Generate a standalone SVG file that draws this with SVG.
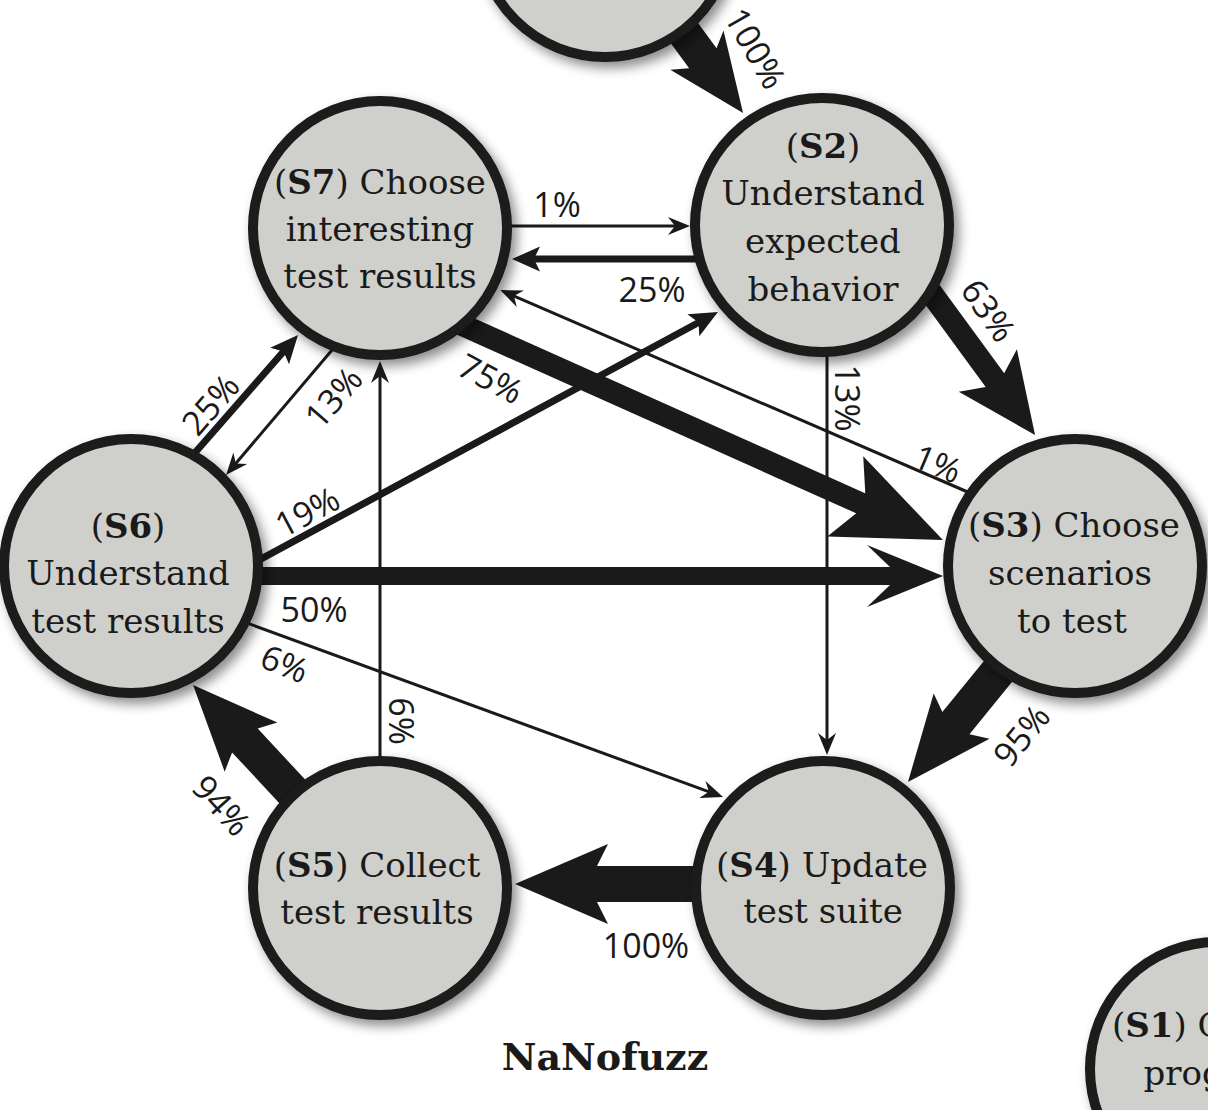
<svg xmlns="http://www.w3.org/2000/svg" width="1208" height="1110" viewBox="0 0 1208 1110">
<style>
.node circle{fill:#cfd0cb;stroke:#1a1a1a;stroke-width:10;filter:url(#sh)}
.nt{font-family:"DejaVu Serif","Liberation Serif",serif;font-size:34px;fill:#1a1a1a;text-anchor:middle}
.nt tspan.b{font-weight:bold}
.e{fill:none;stroke:#1a1a1a;stroke-linecap:butt}
.thin{stroke-width:3;marker-end:url(#mThin)}
.med{stroke-width:7;marker-end:url(#mMed)}
.lbl{font-family:"Open Sans","Noto Sans","Liberation Sans",sans-serif;font-size:34px;fill:#1a1a1a;text-anchor:middle;dominant-baseline:central}
.ttl{font-family:"DejaVu Serif","Liberation Serif",serif;font-size:38px;font-weight:bold;fill:#1a1a1a;text-anchor:middle}
marker path{fill:#1a1a1a}
</style>
<defs>
<filter id="sh" x="-20%" y="-20%" width="150%" height="150%">
<feDropShadow dx="5" dy="6" stdDeviation="6" flood-color="#000" flood-opacity="0.45"/>
</filter>
<marker id="mThin" markerUnits="userSpaceOnUse" orient="auto" refX="8" refY="0" markerWidth="22" markerHeight="18" overflow="visible"><path d="M22,0 L0,-9 L7,0 L0,9 Z"/></marker>
<marker id="mMed" markerUnits="userSpaceOnUse" orient="auto" refX="7" refY="0" markerWidth="28" markerHeight="25" overflow="visible"><path d="M28,0 L0,-12.5 L6,0 L0,12.5 Z"/></marker>
<marker id="mTop" markerUnits="userSpaceOnUse" orient="auto" refX="11" refY="0" markerWidth="78" markerHeight="66" overflow="visible"><path d="M78,0 L0,-33 L10,-17 L10,17 L0,33 Z"/></marker>
<marker id="m63" markerUnits="userSpaceOnUse" orient="auto" refX="13" refY="0" markerWidth="80" markerHeight="72" overflow="visible"><path d="M80,0 L0,-36 L12,-11.5 L12,11.5 L0,36 Z"/></marker>
<marker id="m75" markerUnits="userSpaceOnUse" orient="auto" refX="18" refY="0" markerWidth="107" markerHeight="88" overflow="visible"><path d="M107,0 L0,-44 L17,-11 L17,11 L0,44 Z"/></marker>
<marker id="m50" markerUnits="userSpaceOnUse" orient="auto" refX="24" refY="0" markerWidth="76" markerHeight="62" overflow="visible"><path d="M76,0 L0,-31 L23,-9 L23,9 L0,31 Z"/></marker>
<marker id="mBig" markerUnits="userSpaceOnUse" orient="auto" refX="12" refY="0" markerWidth="93" markerHeight="80" overflow="visible"><path d="M93,0 L0,-40 L11,-18 L11,18 L0,40 Z"/></marker>
<marker id="m95" markerUnits="userSpaceOnUse" orient="auto" refX="10" refY="0" markerWidth="85" markerHeight="72" overflow="visible"><path d="M85,0 L0,-36 L9,-17.5 L9,17.5 L0,36 Z"/></marker>
</defs>
<rect width="1208" height="1110" fill="#ffffff"/>
<g id="connectors">
<path class="e" d="M654.3,-7.9 L703.4,59" stroke-width="34" marker-end="url(#mTop)"/>
<path class="e thin" d="M508,226 L676,226"/>
<path class="e med" d="M702,259 L533,259"/>
<path class="e" d="M917,273.6 L995.5,380.9" stroke-width="23" marker-end="url(#m63)"/>
<path class="e thin" d="M827,350 L827,741"/>
<path class="e thin" d="M970,493 L513,295.6"/>
<path class="e" d="M432,311.5 L861.7,503.7" stroke-width="22" marker-end="url(#m75)"/>
<path class="e med" d="M179.4,470.5 L284.2,350.8"/>
<path class="e thin" d="M338,343 L235.1,464.3"/>
<path class="e med" d="M250,565 L699.5,322" stroke-width="5.5"/>
<path class="e" d="M250,576 L891,576" stroke-width="18" marker-end="url(#m50)"/>
<path class="e thin" d="M235,618.6 L709.9,792.2"/>
<path class="e thin" d="M380,770 L380,375"/>
<path class="e" d="M329.4,831.2 L244.2,739.8" stroke-width="35" marker-end="url(#m95)"/>
<path class="e" d="M710,884 L596,884" stroke-width="36" marker-end="url(#mBig)"/>
<path class="e" d="M1046.8,611.5 L955.3,723.9" stroke-width="35" marker-end="url(#m95)"/>
<text class="lbl" transform="translate(756,48) rotate(60)">100%</text>
<text class="lbl" x="557" y="204">1%</text>
<text class="lbl" x="652" y="289">25%</text>
<text class="lbl" transform="translate(989,310) rotate(55)">63%</text>
<text class="lbl" transform="translate(848,398) rotate(90)">13%</text>
<text class="lbl" transform="translate(938,463) rotate(23)">1%</text>
<text class="lbl" transform="translate(491,378) rotate(28)">75%</text>
<text class="lbl" transform="translate(210,404) rotate(-49)">25%</text>
<text class="lbl" transform="translate(333,397) rotate(-49)">13%</text>
<text class="lbl" transform="translate(307,511) rotate(-28)">19%</text>
<text class="lbl" x="314" y="609">50%</text>
<text class="lbl" transform="translate(285,663) rotate(22)">6%</text>
<text class="lbl" transform="translate(402,721) rotate(90)">6%</text>
<text class="lbl" transform="translate(222,805) rotate(48)">94%</text>
<text class="lbl" x="646" y="945">100%</text>
<text class="lbl" transform="translate(1021,735) rotate(-51)">95%</text>
</g>
<g id="n-top" class="node"><circle cx="605" cy="-70" r="127"/></g>
<g id="s2" class="node"><circle cx="822" cy="225" r="127"/>
<text class="nt" x="823"><tspan x="823" y="158">(<tspan class="b">S2</tspan>)</tspan><tspan x="823" y="205">Understand</tspan><tspan x="823" y="253">expected</tspan><tspan x="823" y="301">behavior</tspan></text></g>
<g id="s7" class="node"><circle cx="380" cy="228" r="127"/>
<text class="nt" x="380"><tspan x="380" y="194">(<tspan class="b">S7</tspan>) Choose</tspan><tspan x="380" y="241">interesting</tspan><tspan x="380" y="288">test results</tspan></text></g>
<g id="s6" class="node"><circle cx="131" cy="566" r="127"/>
<text class="nt" x="128"><tspan x="128" y="538">(<tspan class="b">S6</tspan>)</tspan><tspan x="128" y="585">Understand</tspan><tspan x="128" y="633">test results</tspan></text></g>
<g id="s3" class="node"><circle cx="1075" cy="566" r="127"/>
<text class="nt" x="1072"><tspan x="1074" y="537">(<tspan class="b">S3</tspan>) Choose</tspan><tspan x="1070" y="585">scenarios</tspan><tspan x="1072" y="633">to test</tspan></text></g>
<g id="s5" class="node"><circle cx="380" cy="888" r="127"/>
<text class="nt" x="377"><tspan x="377" y="877">(<tspan class="b">S5</tspan>) Collect</tspan><tspan x="377" y="924">test results</tspan></text></g>
<g id="s4" class="node"><circle cx="823" cy="888" r="127"/>
<text class="nt" x="822"><tspan x="822" y="877">(<tspan class="b">S4</tspan>) Update</tspan><tspan x="823" y="923">test suite</tspan></text></g>
<g id="s1" class="node"><circle cx="1217" cy="1069" r="127"/>
<text class="nt" x="1218"><tspan x="1218" y="1037">(<tspan class="b">S1</tspan>) Choose</tspan><tspan x="1218" y="1085">program</tspan></text></g>
<text id="title" class="ttl" x="605" y="1070">NaNofuzz</text>
</svg>
